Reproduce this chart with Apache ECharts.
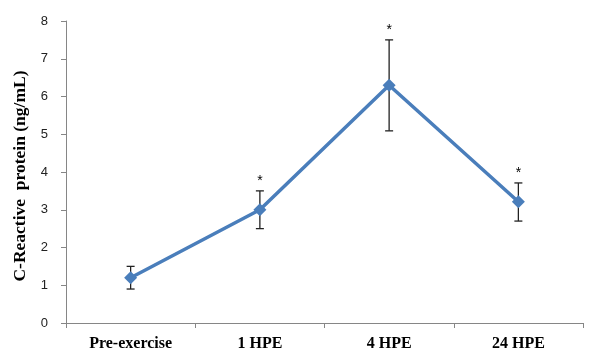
<!DOCTYPE html>
<html><head><meta charset="utf-8">
<script src="https://cdn.jsdelivr.net/npm/echarts@6/dist/echarts.min.js"></script>
<style>html,body{margin:0;padding:0;background:#fff}#c{width:590px;height:354px}</style>
</head><body><div id="c"></div>
<script>
const categories = ['Pre-exercise', '1 HPE', '4 HPE', '24 HPE'];
const means = [1.2, 3.0, 6.3, 3.21];
const errLow = [0.9, 2.5, 5.09, 2.7];
const errHigh = [1.5, 3.5, 7.5, 3.71];
const marks = ['', '*', '*', '*'];
const yTicks = [0, 1, 2, 3, 4, 5, 6, 7, 8];

const chart = echarts.init(document.getElementById('c'));
const errData = categories.map((c, i) => [i, errLow[i], errHigh[i], marks[i]]);
chart.setOption({
  animation: false,
  grid: { left: 66, right: 7, top: 21, bottom: 31 },
  xAxis: {
    type: 'category', data: categories, boundaryGap: true,
    axisLine: { lineStyle: { color: '#868686', width: 1 } },
    axisTick: { show: true, length: 5, lineStyle: { color: '#868686' } },
    axisLabel: { fontFamily: 'Liberation Serif', fontWeight: 'bold', fontSize: 16, color: '#000', margin: 13 }
  },
  yAxis: {
    type: 'value', min: yTicks[0], max: yTicks[yTicks.length - 1], interval: 1,
    name: 'C-Reactive  protein (ng/mL)', nameLocation: 'middle', nameGap: 35,
    nameTextStyle: { fontFamily: 'Liberation Serif', fontWeight: 'bold', fontSize: 17.5, color: '#000', padding: [0, 8, 0, 0] },
    axisLine: { show: true, lineStyle: { color: '#868686', width: 1 } },
    axisTick: { show: true, length: 5, lineStyle: { color: '#868686' } },
    splitLine: { show: false },
    axisLabel: { fontFamily: 'Liberation Sans', fontSize: 13, color: '#222', margin: 18 }
  },
  series: [
    {
      type: 'custom',
      data: errData,
      z: 1,
      renderItem: function (params, api) {
        const x = api.value(0);
        const lo = api.coord([x, api.value(1)]);
        const hi = api.coord([x, api.value(2)]);
        const w = 4;
        const style = { stroke: '#222', lineWidth: 1.3 };
        const children = [
          { type: 'line', shape: { x1: lo[0], y1: lo[1], x2: hi[0], y2: hi[1] }, style: style },
          { type: 'line', shape: { x1: lo[0] - w, y1: lo[1], x2: lo[0] + w, y2: lo[1] }, style: style },
          { type: 'line', shape: { x1: hi[0] - w, y1: hi[1], x2: hi[0] + w, y2: hi[1] }, style: style }
        ];
        const m = api.value(3);
        if (m) {
          children.push({ type: 'text', style: { text: m, x: hi[0], y: hi[1] - 3, textAlign: 'center', textVerticalAlign: 'bottom', fontSize: 14, fontFamily: 'Liberation Sans', fill: '#000' } });
        }
        return { type: 'group', children: children };
      },
      encode: { x: 0, y: [1, 2] }
    },
    {
      type: 'line',
      data: means,
      z: 2,
      symbol: 'diamond',
      symbolSize: 13,
      lineStyle: { color: '#4a7ebb', width: 3.5 },
      itemStyle: { color: '#4a7ebb' }
    }
  ]
});
</script>
</body></html>
